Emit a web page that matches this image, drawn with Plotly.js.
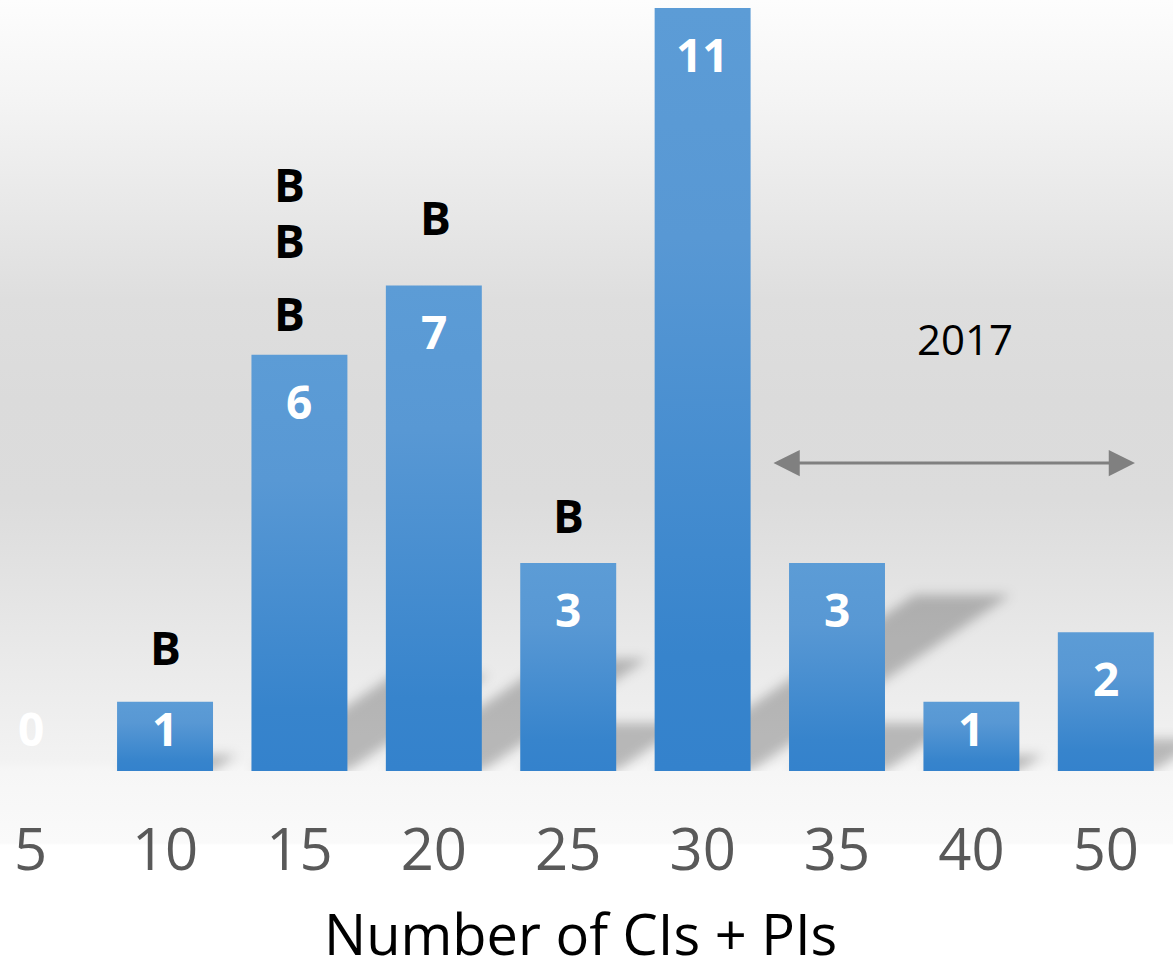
<!DOCTYPE html>
<html>
<head>
<meta charset="utf-8">
<script src="https://cdn.plot.ly/plotly-3.0.1.min.js"></script>
<style>
  html, body { margin: 0; padding: 0; background: #ffffff; }
  #chart {
    width: 1173px; height: 970px;
    background: linear-gradient(to bottom,
      #fdfdfd 0px, #f4f4f4 100px, #e9e9e9 200px, #dedede 300px,
      #dbdbdb 400px, #dcdcdc 500px, #e1e1e1 560px, #e9e9e9 650px,
      #f2f2f2 760px, #f6f6f6 771px, #fafafa 843px, #ffffff 845px, #ffffff 970px);
  }
</style>
</head>
<body>
<div id="chart"></div>
<script>
// ---- data ----
const categories = ['5', '10', '15', '20', '25', '30', '35', '40', '50'];
const counts     = [0, 1, 6, 7, 3, 11, 3, 1, 2];
// "B" markers: category and height (in count units) of each letter
const bLetterCats = ['10', '15', '15', '15', '20', '25'];
const bLetterY    = [1.79, 6.60, 7.66, 8.46, 7.99, 3.69];
const periodLabel = '2017';
const xTitle = 'Number of CIs + PIs';

// ---- layout constants ----
const W = 1173, H = 970;
const marginB = 199;
const plotH = H - marginB;
const yTop = 11.116;
const ppu = plotH / yTop;          // pixels per count unit
const xRange = [-0.228, 8.5];
const barGap = 0.286;
const barW = 1 - barGap;
const xIdx = categories.map((c, i) => i);

// shadows (sheared projections of bars)
const shadowHeightFrac = 0.231;
const shadowShiftPerUnit = 0.1759;
const shapes = counts.map((v, i) => {
  const h = v * shadowHeightFrac;
  const dx = v * shadowShiftPerUnit;
  const x0 = i - barW / 2, x1 = i + barW / 2;
  return {
    type: 'path', layer: 'below', xref: 'x', yref: 'y',
    path: `M${x0},0 L${x1},0 L${x1 + dx},${h} L${x0 + dx},${h} Z`,
    fillcolor: 'rgba(0,0,0,0.24)', line: { width: 0 }
  };
});

// value labels
const valueAnn = counts.map((v, i) => ({
  x: i, y: Math.max(v - 46 / ppu, 43 / ppu), xref: 'x', yref: 'y',
  text: String(v), showarrow: false,
  font: { family: 'Open Sans', size: 46, color: '#ffffff', weight: 'bold' }
}));

const bDx = [0, -10, -10, -10, 2, 0];
const bAnn = bLetterCats.map((c, k) => ({
  x: categories.indexOf(c), y: bLetterY[k], xref: 'x', yref: 'y',
  xshift: bDx[k],
  text: '<b>B</b>', showarrow: false,
  font: { family: 'Open Sans', size: 46, color: '#000000' }
}));

const periodAnn = [
  {
    x: 6.952, y: (771 - 338) / ppu, xref: 'x', yref: 'y',
    text: periodLabel, showarrow: false,
    font: { family: 'Open Sans', size: 42, color: '#000000' }
  },
  {
    x: 8.217, y: (771 - 463) / ppu, ax: 5.516, ay: (771 - 463) / ppu,
    xref: 'x', yref: 'y', axref: 'x', ayref: 'y',
    text: '', showarrow: true, arrowside: 'end+start',
    arrowhead: 2, arrowsize: 1.75, arrowwidth: 3, arrowcolor: '#808080'
  }
];

const titleAnn = [{
  x: 580 / W, y: -(933 - plotH) / plotH, xref: 'paper', yref: 'paper',
  xanchor: 'center', yanchor: 'middle', borderpad: 0,
  text: xTitle, showarrow: false,
  font: { family: 'Open Sans', size: 56, color: '#000000' }
}];

const data = [{
  type: 'bar',
  x: xIdx,
  y: counts,
  marker: { color: '#5B9BD5', line: { width: 0 } },
  hoverinfo: 'none'
}];

const layout = {
  width: W, height: H,
  margin: { l: 0, r: 0, t: 0, b: marginB, pad: 0 },
  paper_bgcolor: 'rgba(0,0,0,0)',
  plot_bgcolor: 'rgba(0,0,0,0)',
  bargap: barGap,
  showlegend: false,
  xaxis: {
    range: xRange,
    tickmode: 'array', tickvals: xIdx, ticktext: categories,
    showgrid: false, zeroline: false, showline: false, ticks: '',
    tickfont: { family: 'Open Sans', size: 58, color: '#595959' },
    ticklabelstandoff: 40,
    automargin: false, fixedrange: true
  },
  yaxis: {
    range: [0, yTop], visible: false, showgrid: false, zeroline: false, fixedrange: true
  },
  shapes: shapes,
  annotations: valueAnn.concat(bAnn, periodAnn, titleAnn)
};

Plotly.newPlot('chart', data, layout, { staticPlot: true, displayModeBar: false }).then(gd => {
  const ns = 'http://www.w3.org/2000/svg';
  const svg = gd.querySelector('svg.main-svg');
  let defs = svg.querySelector('defs');
  if (!defs) { defs = document.createElementNS(ns, 'defs'); svg.insertBefore(defs, svg.firstChild); }
  const lg = document.createElementNS(ns, 'linearGradient');
  lg.setAttribute('id', 'barGrad');
  lg.setAttribute('x1', '0'); lg.setAttribute('y1', '0');
  lg.setAttribute('x2', '0'); lg.setAttribute('y2', '1');
  [[0, '#5C9CD6'], [0.3, '#5898D4'], [0.85, '#3784CC'], [1, '#3482CC']].forEach(([o, c]) => {
    const s = document.createElementNS(ns, 'stop');
    s.setAttribute('offset', o); s.setAttribute('stop-color', c);
    lg.appendChild(s);
  });
  defs.appendChild(lg);
  const f = document.createElementNS(ns, 'filter');
  f.setAttribute('id', 'shadowBlur');
  f.setAttribute('filterUnits', 'userSpaceOnUse');
  f.setAttribute('x', '0'); f.setAttribute('y', '0');
  f.setAttribute('width', String(W)); f.setAttribute('height', String(H));
  const b = document.createElementNS(ns, 'feGaussianBlur');
  b.setAttribute('stdDeviation', '6');
  f.appendChild(b);
  defs.appendChild(f);
  gd.querySelectorAll('.bars .point path').forEach(p => { p.style.fill = 'url(#barGrad)'; });
  gd.querySelectorAll('.shapelayer path').forEach(p => {
    p.setAttribute('filter', 'url(#shadowBlur)');
    p.style.filter = 'url(#shadowBlur)';
  });
});
</script>
</body>
</html>
